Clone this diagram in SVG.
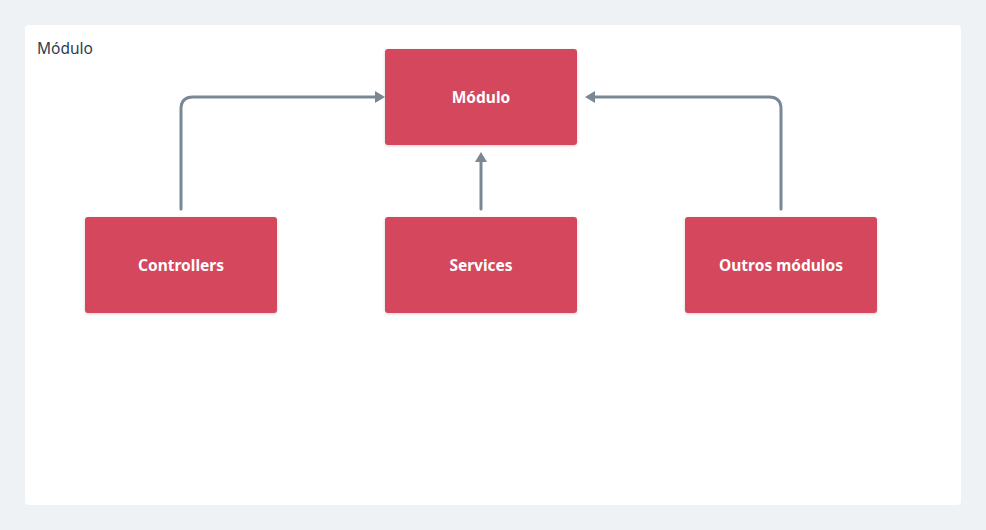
<svg xmlns="http://www.w3.org/2000/svg" width="986" height="530" viewBox="0 0 986 530">
<style>
.node rect{fill:#d4465b;}
.node text{fill:#ffffff;font-family:"Noto Sans","DejaVu Sans",sans-serif;font-weight:bold;font-size:15.5px;text-anchor:middle;dominant-baseline:central;}
.edge{fill:none;stroke:#7a8896;stroke-width:3;stroke-linecap:round;}
.title{fill:#2d3e50;font-family:"Noto Sans","DejaVu Sans",sans-serif;font-size:15.5px;}
</style>
<defs>
<filter id="sh" x="-10%" y="-10%" width="120%" height="130%">
<feDropShadow dx="0" dy="1" stdDeviation="1.5" flood-color="#000" flood-opacity="0.18"/>
</filter>
<marker id="arr" viewBox="0 0 10 12" refX="5" refY="6" markerWidth="10" markerHeight="12" markerUnits="userSpaceOnUse" orient="auto">
<path d="M0,0 L10,6 L0,12 Z" fill="#7a8896"/>
</marker>
</defs>
<rect x="0" y="0" width="986" height="530" fill="#eef2f5"/>
<g id="panel">
<rect x="25" y="25" width="936" height="480" rx="4" fill="#ffffff"/>
<text class="title" x="37" y="54">Módulo</text>
</g>
<g id="connectors">
<path class="edge" d="M181,209 V109 Q181,97 193,97 H380" marker-end="url(#arr)"/>
<path class="edge" d="M481,209 V157" marker-end="url(#arr)"/>
<path class="edge" d="M781,209 V109 Q781,97 769,97 H590" marker-end="url(#arr)"/>
</g>
<g id="node-modulo" class="node"><rect x="385" y="49" width="192" height="96" rx="3" filter="url(#sh)"/><text x="481" y="97">Módulo</text></g>
<g id="node-controllers" class="node"><rect x="85" y="217" width="192" height="96" rx="3" filter="url(#sh)"/><text x="181" y="265">Controllers</text></g>
<g id="node-services" class="node"><rect x="385" y="217" width="192" height="96" rx="3" filter="url(#sh)"/><text x="481" y="265">Services</text></g>
<g id="node-outros" class="node"><rect x="685" y="217" width="192" height="96" rx="3" filter="url(#sh)"/><text x="781" y="265">Outros módulos</text></g>
</svg>
